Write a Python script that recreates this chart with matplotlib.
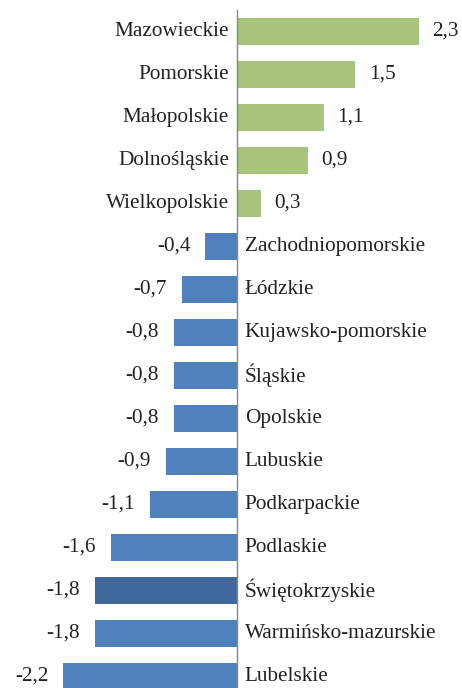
import matplotlib.pyplot as plt
import numpy as np

regions = ["Mazowieckie", "Pomorskie", "Małopolskie", "Dolnośląskie", "Wielkopolskie",
           "Zachodniopomorskie", "Łódzkie", "Kujawsko-pomorskie", "Śląskie", "Opolskie",
           "Lubuskie", "Podkarpackie", "Podlaskie", "Świętokrzyskie", "Warmińsko-mazurskie",
           "Lubelskie"]
values = [2.3, 1.5, 1.1, 0.9, 0.3, -0.4, -0.7, -0.8, -0.8, -0.8, -0.9, -1.1, -1.6, -1.8, -1.8, -2.2]
highlight = "Świętokrzyskie"

green = "#a8c47a"
blue = "#4f81bd"
dark_blue = "#41689c"

plt.rcParams['font.family'] = ['Liberation Serif', 'DejaVu Serif']

fig = plt.figure(figsize=(4.62, 6.88), dpi=100)
ax = fig.add_axes([0, 0, 1, 1])

y = np.arange(len(regions))
colors = []
for r, v in zip(regions, values):
    if r == highlight:
        colors.append(dark_blue)
    elif v >= 0:
        colors.append(green)
    else:
        colors.append(blue)

ax.barh(y, values, height=0.63, color=colors)

fs = 15.3
for i, (r, v) in enumerate(zip(regions, values)):
    lbl = f"{v:.1f}".replace(".", ",")
    if v >= 0:
        ax.text(-0.1, i, r, ha="right", va="center", fontsize=fs, color="#222222")
        ax.text(v + 0.17, i, lbl, ha="left", va="center", fontsize=fs, color="#222222")
    else:
        ax.text(0.1, i, r, ha="left", va="center", fontsize=fs, color="#222222")
        ax.text(v - 0.19, i, lbl, ha="right", va="center", fontsize=fs, color="#222222")

ax.plot([0, 0], [-0.5, len(regions)], color="#888888", lw=1)

ax.set_xlim(-3.0, 2.85)
ax.set_ylim(15.27, -0.733)
ax.axis("off")

fig.savefig("out.png", dpi=100)
